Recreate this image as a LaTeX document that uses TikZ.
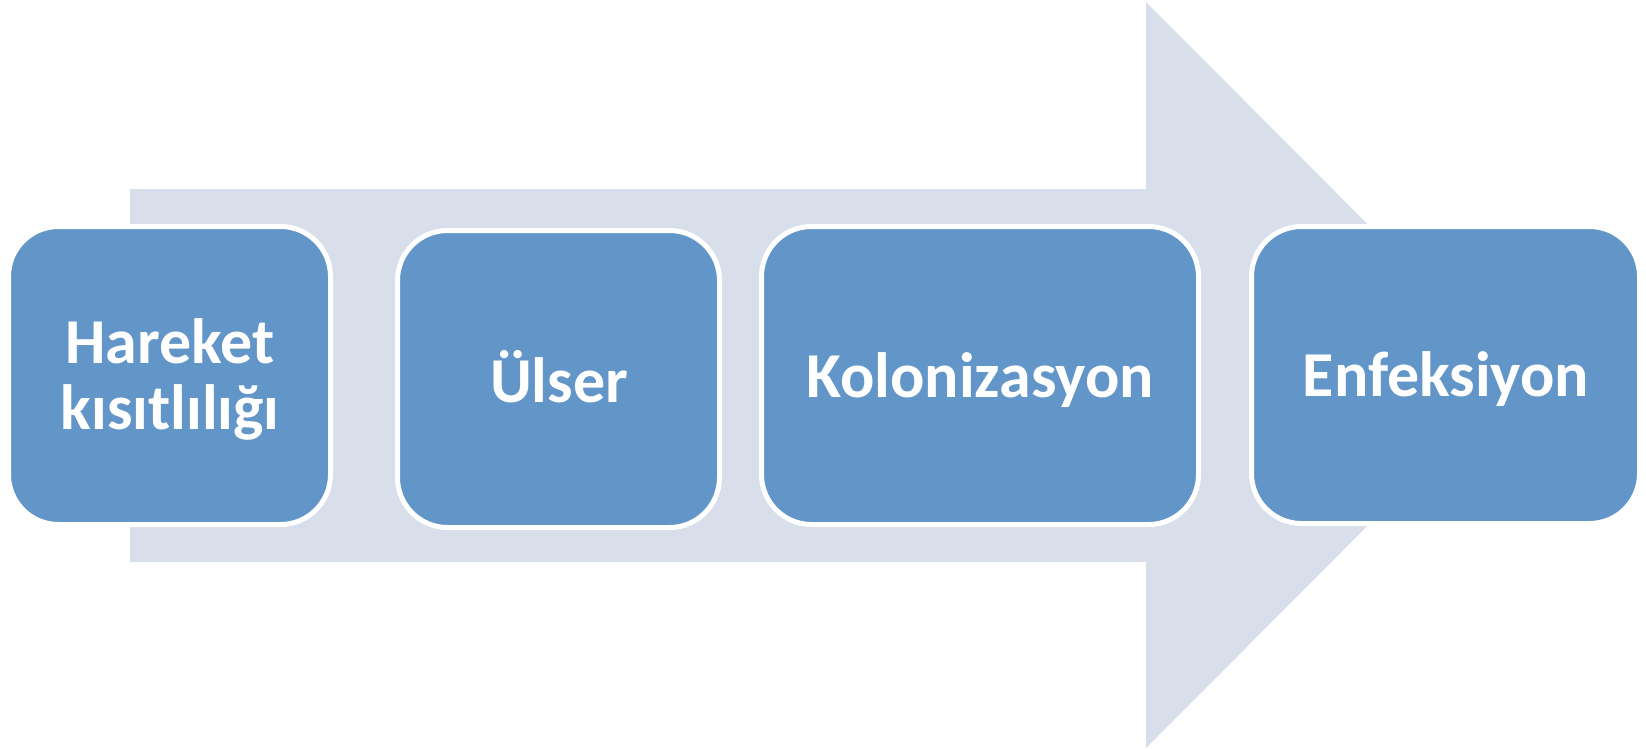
\documentclass[tikz,border=0pt]{standalone}
\usepackage{fontspec}
\setmainfont{Carlito}
\definecolor{arrowfill}{RGB}{216,223,235}
\definecolor{boxfill}{RGB}{98,149,200}
\tikzset{
  stepbox/.style={rectangle, rounded corners=50pt, fill=boxfill, draw=white, line width=5pt, inner sep=0pt, outer sep=0pt},
  lbl/.style={text=white, font=\fontsize{64}{67}\selectfont\bfseries, inner sep=0pt, anchor=base},
}
\begin{document}
\begin{tikzpicture}[x=1pt,y=-1pt]
\useasboundingbox (0,0) rectangle (1646,748);
\fill[white] (0,0) rectangle (1646,748);
% big background arrow
\fill[arrowfill] (130,189) -- (1146,189) -- (1146,2) -- (1518,375) -- (1146,748) -- (1146,562) -- (130,562) -- cycle;
% boxes
\node[stepbox, minimum width=322pt, minimum height=298pt] (b1) at (169.5,375.5) {};
\node[stepbox, minimum width=322pt, minimum height=297pt] (b2) at (558.5,379) {};
\node[stepbox, minimum width=437pt, minimum height=298pt] (b3) at (980,375.5) {};
\node[stepbox, minimum width=388pt, minimum height=297pt] (b4) at (1445.5,375) {};
% labels
\node[lbl] (t1a) at (170,363) {Hareket};
\node[lbl] (t1b) at (170,429) {kısıtlılığı};
\node[lbl] (t2) at (559,402) {Ülser};
\node[lbl] (t3) at (980,397) {Kolonizasyon};
\node[lbl] (t4) at (1446,396) {Enfeksiyon};
\end{tikzpicture}
\end{document}
